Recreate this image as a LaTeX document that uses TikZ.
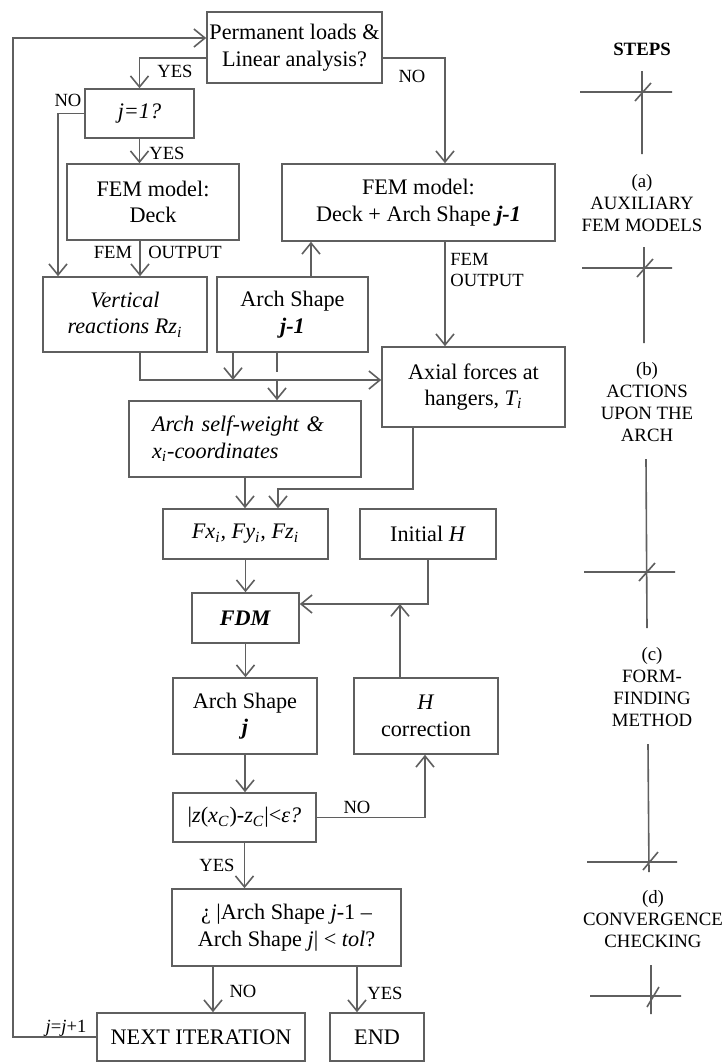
\documentclass[tikz,border=0pt]{standalone}
\usepackage{fontspec}
\setmainfont{Liberation Serif}
\usetikzlibrary{arrows.meta,calc}
\definecolor{lc}{RGB}{95,95,95}
\newcommand\mfont{\fontsize{11.1}{13.2}\selectfont}
\newcommand\lfont{\fontsize{9.3}{10.5}\selectfont}
\newcommand\sfont{\fontsize{9.4}{11}\selectfont}
\begin{document}
\begin{tikzpicture}[x=0.5pt,y=-0.5pt,
  box/.style={draw=lc, line width=0.8pt, inner sep=0pt, align=center, font=\mfont},
  lab/.style={inner sep=0pt, font=\lfont},
  stp/.style={inner sep=0pt, align=center, font=\sfont},
  ln/.style={draw=lc, line width=0.8pt},
  arr/.style={ln, -{Straight Barb[length=5.5pt,width=9pt,line width=0.8pt]}}]
\useasboundingbox (0,0) rectangle (726,1062);
% boxes
\node[box, minimum width=87.5pt, minimum height=35.5pt] (top) at (294.5,47.5) {Permanent loads \&\\Linear analysis?};
\node[box, minimum width=54.5pt, minimum height=24.5pt] (j1) at (139.5,113.5) {\textit{j=1?}};
\node[box, minimum width=86pt, minimum height=38pt] (deck) at (153,202) {FEM model:\\Deck};
\node[box, minimum width=136.5pt, minimum height=38.5pt] (deckarch) at (418.5,202.5) {FEM model:\\Deck + Arch Shape \textbf{\textit{j-1}}};
\node[box, minimum width=82pt, minimum height=37.5pt] (vert) at (125,314.5) {\textit{Vertical}\\\textit{reactions Rz\textsubscript{i}}};
\node[box, minimum width=75.5pt, minimum height=37.5pt] (ashp) at (292.5,314.5) {Arch Shape\\\textbf{\textit{j-1}}};
\node[box, minimum width=91.5pt, minimum height=40pt] (axial) at (473.5,387) {Axial forces at\\hangers, \textit{T\textsubscript{i}}};
\node[box, minimum width=116pt, minimum height=38pt, inner xsep=11.5pt, text width=93pt, align=left] (self) at (245,439) {\textit{Arch self-weight \&}\\\textit{x\textsubscript{i}-coordinates}};
\node[box, minimum width=82.5pt, minimum height=25pt] (fx) at (245.5,534) {\textit{Fx\textsubscript{i}, Fy\textsubscript{i}, Fz\textsubscript{i}}};
\node[box, minimum width=68pt, minimum height=25pt] (initH) at (428,534) {Initial \textit{H}};
\node[box, minimum width=53.5pt, minimum height=25pt] (fdm) at (245.5,618) {\textbf{\textit{FDM}}};
\node[box, minimum width=72pt, minimum height=38pt] (ashj) at (245,716) {Arch Shape\\\textbf{\textit{j}}};
\node[box, minimum width=72pt, minimum height=38pt] (hcor) at (426,716) {\textit{H}\\correction};
\node[box, minimum width=71.5pt, minimum height=24.5pt] (zbox) at (244.5,817.5) {|\textit{z}(\textit{x}\textsubscript{\textit{C}})-\textit{z}\textsubscript{\textit{C}}|<\textit{ε?}};
\node[box, minimum width=114.5pt, minimum height=38.5pt] (conv) at (286.5,927.5) {¿ |Arch Shape \textit{j}-1 –\\Arch Shape \textit{j}| < \textit{tol}?};
\node[box, minimum width=104pt, minimum height=24pt] (next) at (201,1037) {NEXT ITERATION};
\node[box, minimum width=47pt, minimum height=24pt] (end) at (377,1037) {END};
% column coordinates
\coordinate (loopx) at (13,0);
\coordinate (c58) at (58,0);
\coordinate (c140) at (140,0);
\coordinate (c233) at (233,0);
\coordinate (c277) at (277,0);
\coordinate (c278) at (278,0);
\coordinate (c311) at (311,0);
\coordinate (c400) at (400,0);
\coordinate (c413) at (413,0);
\coordinate (c425) at (425,0);
\coordinate (c445) at (445,0);
\coordinate (c213) at (213,0);
\coordinate (c357) at (357,0);
\coordinate (r372) at (0,372);
\coordinate (r380) at (0,380);
\coordinate (r489) at (0,489);
\coordinate (fdmin) at ([yshift=7pt]fdm.east);
% connectors
\draw[arr] (next.west) -- (next.west -| loopx) |- ([yshift=4.75pt]top.west);
\draw[arr] ([yshift=-5.25pt]top.west) -| (j1.north);
\draw[arr] ([yshift=-5.25pt]top.east) -| (deckarch.north -| c445);
\draw[arr] (j1.west) -| (vert.north -| c58);
\draw[arr] (j1.south) -- (j1.south |- deck.north);
\draw[arr] (deck.south -| c140) -- (vert.north -| c140);
\draw[arr] (ashp.north -| c311) -- (deckarch.south -| c311);
\draw[arr] (deckarch.south -| c445) -- (axial.north -| c445);
\draw[arr] (vert.south -| c140) |- (axial.west |- r380);
\draw[arr] (ashp.south -| c233) -- (c233 |- r380);
\draw[ln] (ashp.south -| c277) -- (c277 |- r372);
\draw[arr] (c277 |- r380) -- (self.north -| c277);
\draw[arr] (axial.south -| c413) |- (c278 |- r489) -- (fx.north -| c278);
\draw[arr] (self.south) -- (self.south |- fx.north);
\draw[arr] (fx.south) -- (fdm.north);
\draw[arr] (initH.south) |- (fdmin);
\draw[arr] (hcor.north -| c400) -- (c400 |- fdmin);
\draw[arr] (fdm.south) -- (fdm.south |- ashj.north);
\draw[arr] (ashj.south) -- (ashj.south |- zbox.north);
\draw[arr] (zbox.east) -| (hcor.south -| c425);
\draw[arr] (zbox.south) -- (zbox.south |- conv.north);
\draw[arr] (conv.south -| c213) -- (next.north -| c213);
\draw[arr] (conv.south -| c357) -- (end.north -| c357);
% labels
\node[lab] (l1) at (175,71) {YES};
\node[lab] (l2) at (412,76) {NO};
\node[lab] (l3) at (68,100) {NO};
\node[lab] (l4) at (167,153) {YES};
\node[lab] (l5) at (113,252) {FEM};
\node[lab] (l6) at (185,252) {OUTPUT};
\node[lab, anchor=west, align=left] (l7) at (450,269.5) {FEM\\OUTPUT};
\node[lab] (l8) at (357,807) {NO};
\node[lab] (l9) at (217,865) {YES};
\node[lab] (l10) at (243,991) {NO};
\node[lab] (l11) at (385,993) {YES};
\node[lab] (l12) at (66,1028) {\textit{j}=\textit{j}+1};
% steps column
\node[stp, font=\sfont\bfseries] (steps) at (642,49) {STEPS};
\node[stp] (sa) at (642,203) {(a)\\AUXILIARY\\FEM MODELS};
\node[stp] (sb) at (647,402) {(b)\\ACTIONS\\UPON THE\\ARCH};
\node[stp] (sc) at (652,687) {(c)\\FORM-\\FINDING\\METHOD};
\node[stp] (sd) at (653,919) {(d)\\CONVERGENCE\\CHECKING};
\draw[ln] (580,92) -- (672,92) (642,71) -- (642,154) (635,101) -- (651,83);
\draw[ln] (582,268) -- (672,268) (644,247) -- (644,343) (637,277) -- (653,259);
\draw[ln] (584,572) -- (675,572) (646,459) -- (647,628) (639,581) -- (655,563);
\draw[ln] (587,862) -- (677,862) (648,744) -- (649,872) (643,870) -- (658,852);
\draw[ln] (590,996) -- (681,996) (651,965) -- (651,1014) (647,1007) -- (659,987);
\end{tikzpicture}
\end{document}
